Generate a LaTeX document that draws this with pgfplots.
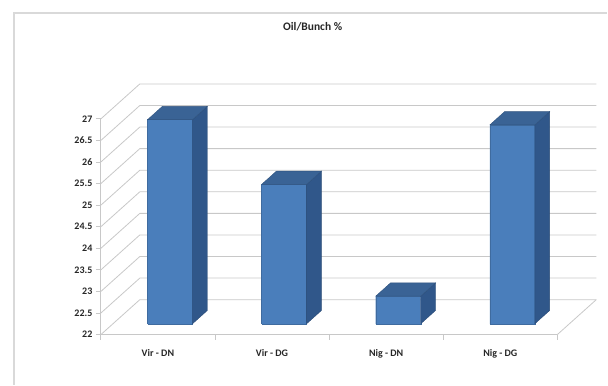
\documentclass[border=0pt]{standalone}
\usepackage{pgfplots}
\pgfplotsset{compat=1.18}
\usepackage{pgfplotstable}
\usepackage{fontspec}
\setmainfont{Carlito}

\definecolor{barfront}{HTML}{4A7EBB}
\definecolor{barside}{HTML}{30578A}
\definecolor{bartop}{HTML}{3A6395}
\definecolor{gridc}{HTML}{C8C8C8}
\definecolor{framec}{HTML}{D9D9D9}

\pgfplotstableread{
idx value
0 26.73
1 25.23
2 22.64
3 26.61
}\oildata

% depth geometry of the 3-D columns, in axis units
\def\bw{0.197}  % half width of a column
\def\dx{0.3414} % horizontal depth offset of the back wall
\def\dy{0.810}  % vertical depth offset of the back wall
\def\fa{0.31}   % depth of the column front face
\def\fb{0.69}   % depth of the column back face

\begin{document}
\begin{tikzpicture}
\begin{axis}[
  scale only axis, width=457pt, height=216pt,
  xmin=-0.5, xmax=3.5, ymin=22, ymax=27,
  clip=false,
  axis x line*=bottom, axis y line*=left,
  axis line style={draw=gridc, line width=0.8pt, -},
  xtick={0,1,2,3},
  xticklabels={Vir - DN, Vir - DG, Nig - DN, Nig - DG},
  x tick style={draw=none},
  ytick={22,22.5,23,23.5,24,24.5,25,25.5,26,26.5,27},
  y tick style={draw=gridc, line width=0.8pt},
  tick align=outside,
  major tick length=5pt,
  ticklabel style={font=\bfseries\fontsize{10}{12}\selectfont, text=black!85},
  xticklabel style={yshift=-6pt},
  /pgf/number format/assume math mode=true,
]

% back wall gridlines and left wall diagonals
\pgfplotsinvokeforeach{22,22.5,23,23.5,24,24.5,25,25.5,26,26.5,27}{
  \pgfmathsetmacro\yb{#1+\dy}
  \edef\tmp{\noexpand\addplot[gridc, line width=0.8pt, mark=none, forget plot]
    coordinates {(-0.5,#1) (-0.1586,\yb) (3.8414,\yb)};}
  \tmp
}
% right edge of the floor
\addplot[gridc, line width=0.8pt, mark=none, forget plot]
  coordinates {(3.5,22) (3.8414,22.81)};

% category boundary ticks
\pgfplotsinvokeforeach{-0.5,0.5,1.5,2.5,3.5}{
  \draw[gridc, line width=0.8pt] (axis cs:#1,22) -- ++(0pt,-5pt);
}

% 3-D columns: front, side and top faces
\pgfplotsinvokeforeach{0,1,2,3}{
  \pgfplotstablegetelem{#1}{value}\of\oildata
  \let\val\pgfplotsretval
  \pgfmathsetmacro\xa{#1-\bw+\fa*\dx}
  \pgfmathsetmacro\xb{#1+\bw+\fa*\dx}
  \pgfmathsetmacro\xc{#1+\bw+\fb*\dx}
  \pgfmathsetmacro\xd{#1-\bw+\fb*\dx}
  \pgfmathsetmacro\ya{22+\fa*\dy}
  \pgfmathsetmacro\yc{22+\fb*\dy}
  \pgfmathsetmacro\ta{\val+\fa*\dy}
  \pgfmathsetmacro\tc{\val+\fb*\dy}
  \edef\tmp{%
    \noexpand\addplot[fill=barfront, draw=barfront!85!black, line width=0.4pt, mark=none, forget plot]
      coordinates {(\xa,\ya) (\xb,\ya) (\xb,\ta) (\xa,\ta) (\xa,\ya)};
    \noexpand\addplot[fill=barside, draw=barside!85!black, line width=0.4pt, mark=none, forget plot]
      coordinates {(\xb,\ya) (\xc,\yc) (\xc,\tc) (\xb,\ta) (\xb,\ya)};
    \noexpand\addplot[fill=bartop, draw=bartop!85!black, line width=0.4pt, mark=none, forget plot]
      coordinates {(\xa,\ta) (\xb,\ta) (\xc,\tc) (\xd,\tc) (\xa,\ta)};
  }\tmp
}

% chart frame (left and top edges), title and picture extent
\draw[framec, line width=1.5pt] (axis cs:-1.2615,20.843) -- (axis cs:-1.2615,29.454) -- (axis cs:3.9376,29.454);
\node[font=\bfseries\fontsize{11.5}{13}\selectfont, text=black!85] at (axis cs:1.3556,29.13) {Oil/Bunch \%};
\path (axis cs:-1.384,20.843) rectangle (axis cs:3.9376,29.755);
\end{axis}
\end{tikzpicture}
\end{document}
